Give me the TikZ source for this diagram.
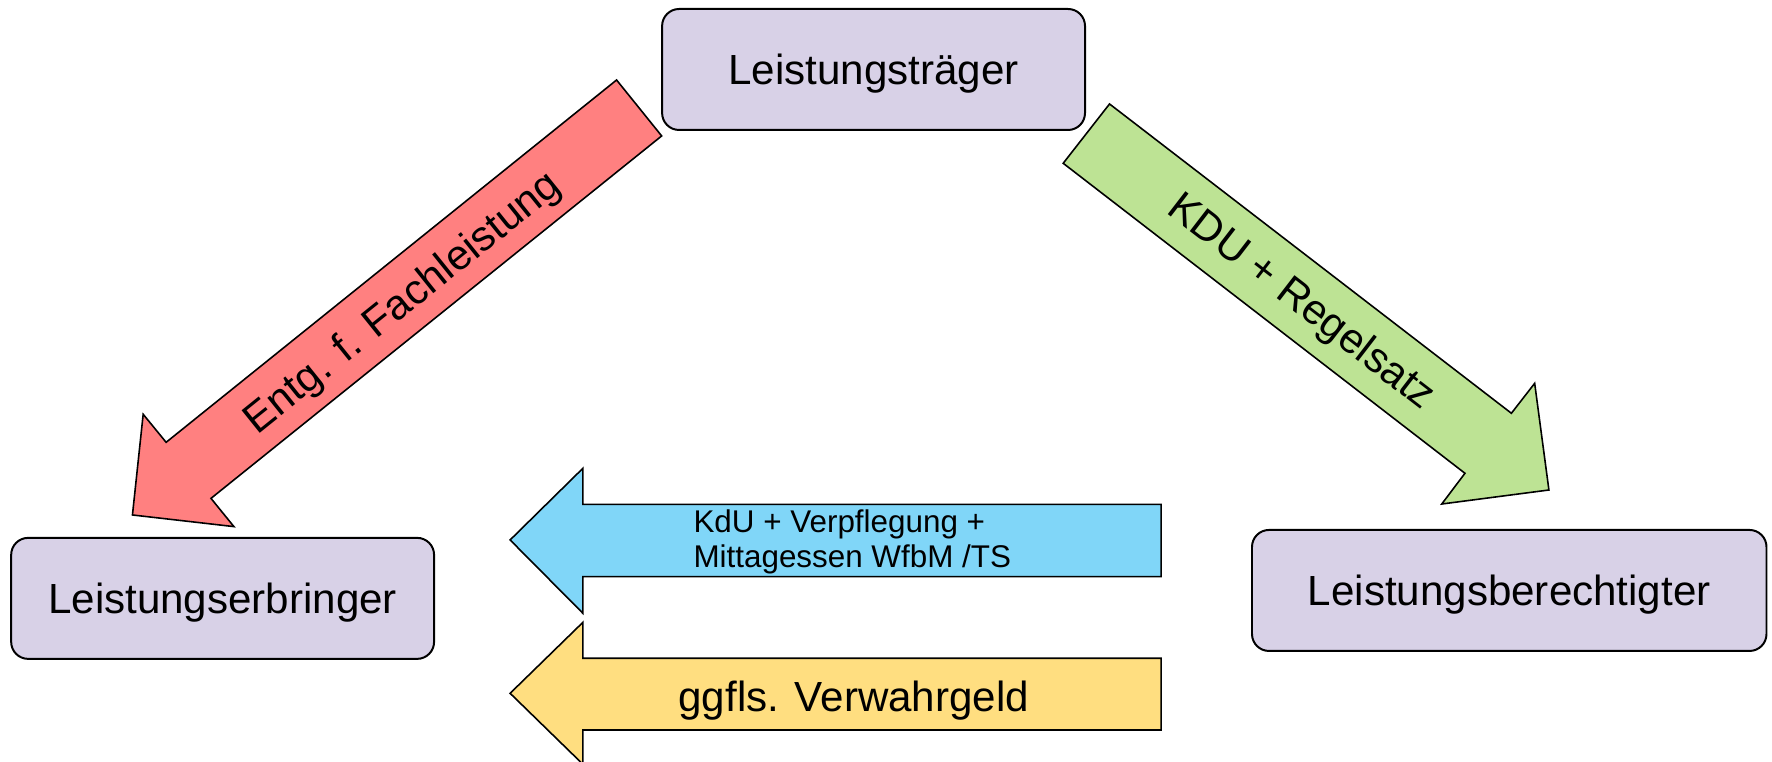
\documentclass[tikz,border=0pt]{standalone}
\usepackage{fontspec}
\setmainfont{Liberation Sans}
\definecolor{boxfill}{RGB}{216,209,231}
\definecolor{redfill}{RGB}{255,128,128}
\definecolor{greenfill}{RGB}{189,227,148}
\definecolor{bluefill}{RGB}{128,214,248}
\definecolor{yellowfill}{RGB}{255,222,128}
\begin{document}
\begin{tikzpicture}[x=0.01cm,y=-0.01cm,
  box/.style={draw=black, line width=0.5pt, fill=boxfill, rounded corners=0.15cm,
    minimum height=1.07cm, inner sep=0pt, text depth=0pt, font=\fontsize{10.6}{12.7}\selectfont},
  blockarrow/.style={draw=black, line width=0.4pt, line join=miter},
  lbl/.style={font=\fontsize{10.6}{12.7}\selectfont, inner sep=0pt},
  small/.style={font=\fontsize{7.9}{8.8}\selectfont, inner sep=0pt, align=left}]
\useasboundingbox (0,0) rectangle (1568,674);
\clip (0,0) rectangle (1568,674);

% boxes
\node[box, minimum width=3.74cm] (traeger) at (773,61.5) {Leistungsträger};
\node[box, minimum width=3.74cm] (erbringer) at (197,529.5) {Leistungserbringer};
\node[box, minimum width=4.55cm] (berechtigter) at (1335.5,522.5) {Leistungsberechtigter};

% red arrow
\draw[blockarrow, fill=redfill] (545.6,70.8) -- (585.5,120.3) -- (186.7,441) -- (207,466)
  -- (117.2,455.7) -- (126.7,366.6) -- (147,391.4) -- cycle;
\node[lbl, rotate=38.8] (entg) at (357,269) {Entg. f. Fachleistung};

% green arrow
\draw[blockarrow, fill=greenfill] (981.8,92) -- (940.8,144.5) -- (1296.3,418.8) -- (1275.8,446)
  -- (1370.6,433.6) -- (1358,339.2) -- (1337.4,365.7) -- cycle;
\node[lbl, rotate=-37.6] (kdu) at (1151,268) {KDU + Regelsatz};

% blue arrow
\draw[blockarrow, fill=bluefill] (451.4,477.8) -- (515.8,414.4) -- (515.8,446.3) -- (1027.4,446.3)
  -- (1027.4,510.3) -- (515.8,510.3) -- (515.8,542.7) -- cycle;
\node[small, anchor=west] (verpf) at (613,479.5) {KdU + Verpflegung +\\Mittagessen WfbM /TS};

% yellow arrow
\draw[blockarrow, fill=yellowfill] (451.4,613.5) -- (515.8,550.7) -- (515.8,582.5) -- (1027.4,582.5)
  -- (1027.4,646) -- (515.8,646) -- (515.8,676.3) -- cycle;
\node[lbl, text depth=0pt] (verwahr) at (755.5,616) {ggfls. Verwahrgeld};
\end{tikzpicture}
\end{document}
